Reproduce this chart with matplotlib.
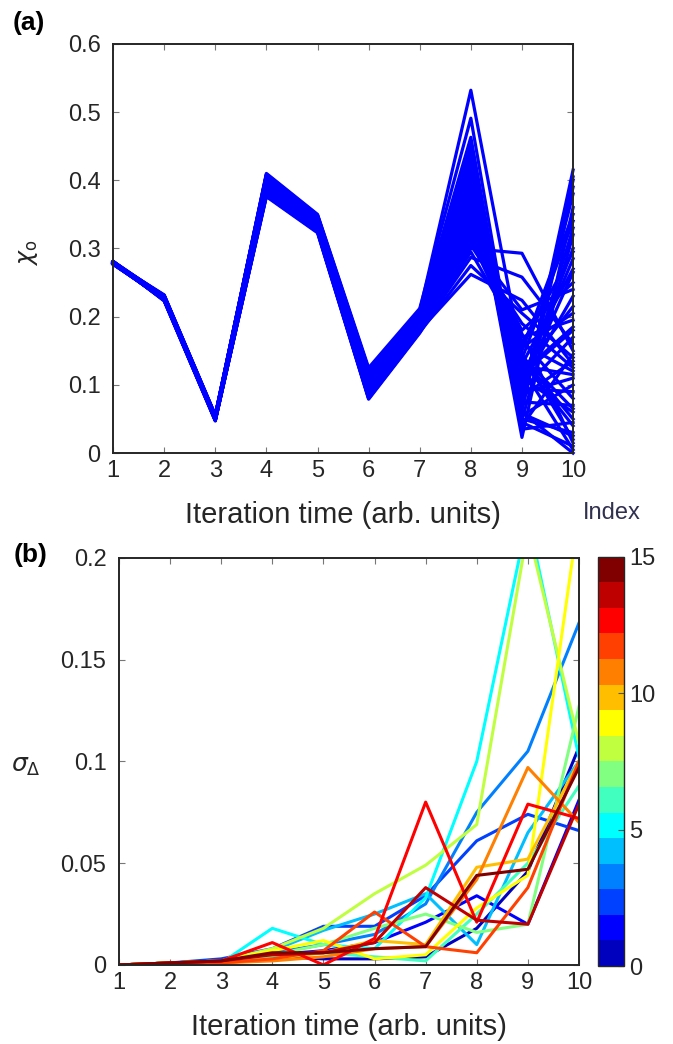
import matplotlib
matplotlib.use('Agg')
import matplotlib.pyplot as plt
from matplotlib.colors import ListedColormap, Normalize
from matplotlib.cm import ScalarMappable

plt.rcParams['font.family'] = ['Liberation Sans', 'DejaVu Sans']
plt.rcParams['mathtext.fontset'] = 'dejavusans'

TXT = '#262626'

iterations = [1, 2, 3, 4, 5, 6, 7, 8, 9, 10]

# panel (a): x_o of every run, one list per iteration step
xo_t1 = [0.278, 0.279, 0.280, 0.281, 0.277, 0.279, 0.280, 0.278, 0.279, 0.281, 0.280, 0.278,
         0.279, 0.277, 0.280, 0.279, 0.281, 0.278, 0.279, 0.280, 0.278, 0.279, 0.281, 0.280,
         0.277, 0.279, 0.280, 0.278, 0.279, 0.281, 0.280, 0.278, 0.279, 0.277, 0.280, 0.279,
         0.279, 0.280, 0.278, 0.281, 0.279, 0.277, 0.280, 0.279, 0.278, 0.280, 0.281, 0.279,
         0.278, 0.280]
xo_t2 = [0.226, 0.228, 0.224, 0.230, 0.227, 0.225, 0.229, 0.231, 0.226, 0.223, 0.228, 0.230,
         0.225, 0.227, 0.229, 0.224, 0.226, 0.231, 0.228, 0.225, 0.230, 0.227, 0.224, 0.229,
         0.226, 0.232, 0.228, 0.225, 0.227, 0.230, 0.224, 0.229, 0.226, 0.228, 0.231, 0.225,
         0.227, 0.230, 0.225, 0.228, 0.231, 0.226, 0.224, 0.229, 0.227, 0.230, 0.225, 0.228,
         0.226, 0.229]
xo_t3 = [0.050, 0.052, 0.049, 0.054, 0.051, 0.048, 0.053, 0.055, 0.050, 0.047, 0.052, 0.054,
         0.049, 0.051, 0.053, 0.048, 0.050, 0.056, 0.052, 0.049, 0.054, 0.051, 0.048, 0.053,
         0.050, 0.055, 0.052, 0.049, 0.051, 0.054, 0.048, 0.053, 0.050, 0.052, 0.055, 0.049,
         0.051, 0.053, 0.049, 0.052, 0.055, 0.050, 0.048, 0.054, 0.051, 0.053, 0.049, 0.052,
         0.050, 0.054]
xo_t4 = [0.395, 0.402, 0.381, 0.408, 0.390, 0.377, 0.399, 0.405, 0.386, 0.379, 0.397, 0.410,
         0.383, 0.393, 0.401, 0.378, 0.388, 0.406, 0.398, 0.384, 0.403, 0.391, 0.380, 0.400,
         0.387, 0.409, 0.396, 0.382, 0.392, 0.404, 0.376, 0.399, 0.389, 0.394, 0.407, 0.385,
         0.392, 0.404, 0.383, 0.397, 0.408, 0.388, 0.379, 0.401, 0.393, 0.406, 0.385, 0.398,
         0.390, 0.403]
xo_t5 = [0.338, 0.344, 0.327, 0.348, 0.335, 0.324, 0.341, 0.346, 0.331, 0.326, 0.340, 0.350,
         0.329, 0.337, 0.343, 0.325, 0.333, 0.347, 0.342, 0.330, 0.345, 0.336, 0.326, 0.342,
         0.332, 0.349, 0.339, 0.328, 0.336, 0.345, 0.323, 0.341, 0.334, 0.338, 0.347, 0.331,
         0.336, 0.345, 0.329, 0.340, 0.348, 0.333, 0.325, 0.343, 0.337, 0.346, 0.330, 0.341,
         0.334, 0.344]
xo_t6 = [0.098, 0.112, 0.085, 0.121, 0.094, 0.081, 0.105, 0.117, 0.090, 0.083, 0.101, 0.125,
         0.088, 0.096, 0.109, 0.080, 0.092, 0.119, 0.103, 0.087, 0.114, 0.097, 0.082, 0.107,
         0.091, 0.123, 0.100, 0.086, 0.095, 0.115, 0.079, 0.104, 0.093, 0.099, 0.120, 0.089,
         0.097, 0.116, 0.086, 0.104, 0.122, 0.093, 0.081, 0.110, 0.099, 0.118, 0.088, 0.106,
         0.095, 0.113]
xo_t7 = [0.192, 0.201, 0.181, 0.208, 0.189, 0.178, 0.196, 0.205, 0.186, 0.180, 0.194, 0.212,
         0.184, 0.191, 0.199, 0.177, 0.187, 0.206, 0.197, 0.183, 0.203, 0.190, 0.179, 0.198,
         0.188, 0.210, 0.193, 0.182, 0.190, 0.204, 0.176, 0.196, 0.186, 0.193, 0.207, 0.185,
         0.191, 0.203, 0.182, 0.197, 0.209, 0.188, 0.178, 0.200, 0.193, 0.205, 0.184, 0.198,
         0.190, 0.202]
xo_t8 = [0.365, 0.412, 0.330, 0.532, 0.348, 0.287, 0.395, 0.445, 0.322, 0.262, 0.378, 0.491,
         0.315, 0.356, 0.402, 0.275, 0.340, 0.463, 0.385, 0.310, 0.428, 0.360, 0.300, 0.390,
         0.335, 0.438, 0.372, 0.305, 0.352, 0.420, 0.295, 0.382, 0.344, 0.368, 0.452, 0.326,
         0.358, 0.405, 0.318, 0.375, 0.432, 0.342, 0.308, 0.398, 0.362, 0.415, 0.328, 0.388,
         0.350, 0.408]
xo_t9 = [0.120, 0.085, 0.160, 0.140, 0.105, 0.258, 0.070, 0.045, 0.180, 0.224, 0.095, 0.060,
         0.150, 0.115, 0.075, 0.205, 0.130, 0.050, 0.088, 0.170, 0.065, 0.110, 0.293, 0.080,
         0.145, 0.055, 0.100, 0.190, 0.125, 0.023, 0.165, 0.092, 0.135, 0.108, 0.040, 0.155,
         0.098, 0.062, 0.175, 0.128, 0.048, 0.142, 0.210, 0.072, 0.118, 0.035, 0.160, 0.083,
         0.138, 0.058]
xo_t10 = [0.215, 0.380, 0.120, 0.050, 0.300, 0.160, 0.415, 0.010, 0.250, 0.130, 0.090, 0.000,
          0.350, 0.180, 0.070, 0.140, 0.270, 0.030, 0.110, 0.195, 0.400, 0.060, 0.150, 0.330,
          0.020, 0.100, 0.230, 0.125, 0.005, 0.360, 0.080, 0.170, 0.040, 0.285, 0.145, 0.205,
          0.265, 0.390, 0.015, 0.115, 0.320, 0.065, 0.240, 0.405, 0.185, 0.045, 0.295, 0.135,
          0.340, 0.025]

# panel (b): sigma_delta for index 0..15
sigma = [
    [0, 0.001, 0.002, 0.004, 0.003, 0.003, 0.004, 0.018, 0.046, 0.107],
    [0, 0.001, 0.002, 0.005, 0.007, 0.011, 0.021, 0.034, 0.020, 0.081],
    [0, 0.001, 0.003, 0.008, 0.019, 0.019, 0.034, 0.061, 0.074, 0.066],
    [0, 0.001, 0.002, 0.006, 0.010, 0.015, 0.030, 0.075, 0.105, 0.168],
    [0, 0.001, 0.002, 0.007, 0.017, 0.025, 0.035, 0.010, 0.065, 0.100],
    [0, 0.001, 0.001, 0.018, 0.010, 0.008, 0.033, 0.100, 0.220, 0.102],
    [0, 0.001, 0.001, 0.004, 0.006, 0.004, 0.002, 0.025, 0.050, 0.088],
    [0, 0.001, 0.002, 0.005, 0.010, 0.018, 0.025, 0.016, 0.020, 0.127],
    [0, 0.001, 0.002, 0.008, 0.018, 0.035, 0.049, 0.069, 0.214, 0.109],
    [0, 0.001, 0.002, 0.007, 0.012, 0.003, 0.005, 0.028, 0.044, 0.222],
    [0, 0.001, 0.001, 0.003, 0.006, 0.012, 0.010, 0.048, 0.052, 0.100],
    [0, 0.001, 0.001, 0.002, 0.004, 0.008, 0.009, 0.042, 0.097, 0.070],
    [0, 0.001, 0.001, 0.003, 0.007, 0.026, 0.009, 0.006, 0.038, 0.100],
    [0, 0.001, 0.002, 0.011, 0.000, 0.013, 0.080, 0.021, 0.079, 0.072],
    [0, 0.001, 0.002, 0.005, 0.006, 0.011, 0.038, 0.022, 0.020, 0.079],
    [0, 0.001, 0.002, 0.006, 0.006, 0.008, 0.009, 0.044, 0.047, 0.097],
]

# matlab jet(16)
jet16 = [(0, 0, 0.75), (0, 0, 1), (0, 0.25, 1), (0, 0.5, 1), (0, 0.75, 1), (0, 1, 1),
         (0.25, 1, 0.75), (0.5, 1, 0.5), (0.75, 1, 0.25), (1, 1, 0), (1, 0.75, 0),
         (1, 0.5, 0), (1, 0.25, 0), (1, 0, 0), (0.75, 0, 0), (0.5, 0, 0)]
cmap = ListedColormap(jet16)


def style_axes(ax, ylim, yticks, yticklabels):
    ax.set_xlim(1, 10)
    ax.set_ylim(*ylim)
    ax.set_xticks(iterations)
    ax.set_yticks(yticks)
    ax.set_yticklabels(yticklabels)
    ax.tick_params(direction='in', top=True, right=True, length=4, width=0.8,
                   color='#777777', labelsize=17, labelcolor=TXT)
    ax.tick_params(axis='x', pad=5)
    ax.tick_params(axis='y', pad=9)
    for s in ax.spines.values():
        s.set_linewidth(1.4)
        s.set_color(TXT)
    ax.set_xlabel('Iteration time (arb. units)', fontsize=21, color=TXT, labelpad=14)


fig = plt.figure(figsize=(6.73, 10.44), dpi=100)

# (a)
ax1 = fig.add_axes([0.168, 0.566, 0.6835, 0.392])
cols = [xo_t1, xo_t2, xo_t3, xo_t4, xo_t5, xo_t6, xo_t7, xo_t8, xo_t9, xo_t10]
for run in zip(*cols):
    ax1.plot(iterations, run, color=(0, 0, 1), lw=2.3, clip_on=False)
style_axes(ax1, (0, 0.6), [0, 0.1, 0.2, 0.3, 0.4, 0.5, 0.6],
           ['0', '0.1', '0.2', '0.3', '0.4', '0.5', '0.6'])
fig.text(29 / 673, 1 - 253 / 1044, r'$\chi_{\mathrm{o}}$', rotation=90,
         ha='center', va='center', fontsize=17, color=TXT)

# (b)
ax2 = fig.add_axes([0.1768, 0.0757, 0.6835, 0.390])
for i, vals in enumerate(sigma):
    ax2.plot(iterations, vals, color=jet16[i], lw=2.2)
style_axes(ax2, (0, 0.2), [0, 0.05, 0.1, 0.15, 0.2],
           ['0', '0.05', '0.1', '0.15', '0.2'])
fig.text(26 / 673, 1 - 766 / 1044, r'$\sigma_{\Delta}$',
         ha='center', va='center', fontsize=18, color=TXT)

cax = fig.add_axes([0.8886, 0.0747, 0.0386, 0.392])
sm = ScalarMappable(norm=Normalize(0, 15), cmap=cmap)
cb = fig.colorbar(sm, cax=cax, ticks=[0, 5, 10, 15])
cb.ax.tick_params(direction='in', length=4, width=0.8, color='#555555',
                  labelsize=17, labelcolor=TXT, pad=4)
cb.outline.set_linewidth(1.0)
cb.outline.set_edgecolor(TXT)
fig.text(612 / 673, 1 - 513 / 1044, 'Index', ha='center', va='center',
         fontsize=17, color='#30304f')

fig.text(13 / 673, 1 - 23 / 1044, '(a)', fontweight='bold', fontsize=19,
         ha='left', va='center', color='black')
fig.text(14 / 673, 1 - 555 / 1044, '(b)', fontweight='bold', fontsize=19,
         ha='left', va='center', color='black')

fig.savefig('out.png', dpi=100)
